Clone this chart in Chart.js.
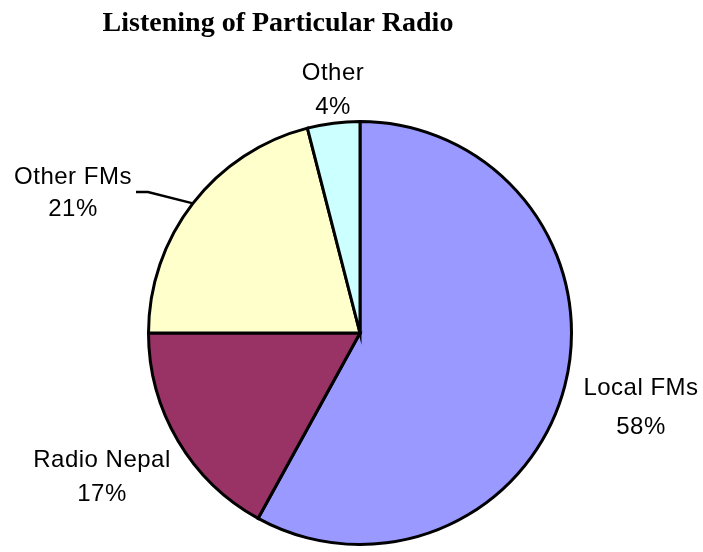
<!DOCTYPE html>
<html>
<head>
<meta charset="utf-8">
<script src="https://cdn.jsdelivr.net/npm/chart.js@4/dist/chart.umd.min.js"></script>
<style>
  html, body { margin: 0; padding: 0; background: #fff; }
  #wrap { width: 703px; height: 552px; }
</style>
</head>
<body>
<div id="wrap"><canvas id="chart" width="703" height="552"></canvas></div>
<script>
// data
const categories = ["Local FMs", "Radio Nepal", "Other FMs", "Other"];
const shares = [58, 17, 21, 4];
const sliceColors = ["#9999FF", "#993366", "#FFFFCC", "#CCFFFF"];

// where each data label sits (center x, baseline of first line, line gap)
const labelSpots = [
    { x: 641, y: 395, gap: 39 },
    { x: 102, y: 467, gap: 34 },
    { x: 73, y: 184, gap: 32 },
    { x: 333, y: 80, gap: 34 }
];

const labelPlugin = {
    id: "radioLabels",
    afterDraw: function (chart) {
        var ctx = chart.ctx;
        var meta = chart.getDatasetMeta(0);
        ctx.save();

        // title
        ctx.fillStyle = "#000";
        ctx.font = "bold 28px 'Liberation Serif', 'Times New Roman', serif";
        ctx.textAlign = "center";
        ctx.textBaseline = "alphabetic";
        ctx.fillText("Listening of Particular Radio", 278, 31);

        // slice labels
        ctx.font = "24px 'Liberation Sans', Arial, sans-serif";
        ctx.letterSpacing = "0.5px";
        categories.forEach(function (name, i) {
            var s = labelSpots[i];
            ctx.fillText(name, s.x, s.y);
            ctx.fillText(shares[i] + "%", s.x, s.y + s.gap);
        });

        // leader line for Other FMs
        var arc = meta.data[2];
        var mid = (arc.startAngle + arc.endAngle) / 2;
        var ex = arc.x + Math.cos(mid) * arc.outerRadius;
        var ey = arc.y + Math.sin(mid) * arc.outerRadius;
        ctx.strokeStyle = "#000";
        ctx.lineWidth = 2.5;
        ctx.beginPath();
        ctx.moveTo(136, 192);
        ctx.lineTo(148, 192);
        ctx.lineTo(ex, ey);
        ctx.stroke();

        ctx.restore();
    }
};

var ctx = document.getElementById("chart").getContext("2d");
var myChart = new Chart(ctx, {
    type: "pie",
    data: {
        labels: categories,
        datasets: [
            {
                data: shares,
                backgroundColor: sliceColors,
                borderColor: "#000",
                borderWidth: 3,
                borderJoinStyle: "miter"
            }
        ]
    },
    options: {
        responsive: false,
        animation: false,
        layout: {
            padding: { top: 120, bottom: 6, left: 147, right: 130 }
        },
        plugins: {
            legend: { display: false },
            tooltip: { enabled: false },
            title: { display: false }
        }
    },
    plugins: [labelPlugin]
});
</script>
</body>
</html>
